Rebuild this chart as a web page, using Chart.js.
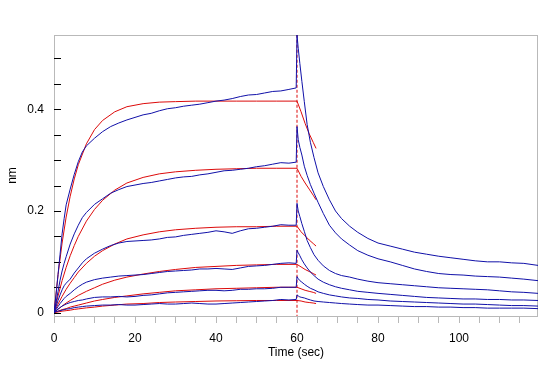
<!DOCTYPE html>
<html>
<head>
<meta charset="utf-8">
<script src="https://cdn.jsdelivr.net/npm/chart.js@4.4.1/dist/chart.umd.min.js"></script>
<style>
body{margin:0;background:#fff;}
#wrap{width:549px;height:366px;}
</style>
</head>
<body>
<div id="wrap"><canvas id="myChart" width="549" height="366"></canvas></div>
<script>
// raw sensor traces, association (0-60 s) then dissociation (60-120 s)
const assocTime = [0,0.5,1,1.5,2,2.5,3,4,5,6,7,8,10,12,14,16,18,20,22,24,26,28,30,32,34,36,38,40,42,44,46,48,50,52,54,56,58,59.8];
const dissTime  = [60,60.3,60.7,61.2,61.8,62.5,63.3,64.2,65.2,66.5,68,69.5,71,73,75,77.5,80,83,86,89,92,95,98,101,104,107,110,113,116,119.5];

const assoc1 = [0,0.035,0.075,0.115,0.155,0.185,0.212,0.243,0.272,0.297,0.316,0.328,0.343,0.356,0.366,0.373,0.379,0.384,0.389,0.392,0.397,0.401,0.403,0.406,0.408,0.410,0.413,0.416,0.418,0.421,0.425,0.428,0.429,0.432,0.435,0.436,0.439,0.442];
const assoc2 = [0,0.020,0.042,0.064,0.082,0.097,0.110,0.135,0.155,0.172,0.187,0.197,0.213,0.224,0.235,0.242,0.248,0.251,0.254,0.256,0.259,0.262,0.265,0.267,0.268,0.271,0.273,0.276,0.279,0.280,0.282,0.284,0.287,0.289,0.292,0.295,0.294,0.296];
const assoc3 = [0,0.012,0.024,0.035,0.045,0.053,0.058,0.066,0.078,0.088,0.098,0.106,0.117,0.125,0.132,0.137,0.140,0.141,0.142,0.143,0.145,0.148,0.149,0.152,0.154,0.156,0.158,0.161,0.159,0.156,0.161,0.165,0.166,0.168,0.170,0.173,0.172,0.172];
const assoc4 = [0,0.006,0.012,0.018,0.023,0.028,0.032,0.038,0.045,0.051,0.056,0.060,0.065,0.068,0.070,0.072,0.073,0.074,0.075,0.077,0.079,0.081,0.082,0.083,0.084,0.086,0.086,0.087,0.086,0.085,0.088,0.091,0.092,0.093,0.095,0.097,0.098,0.097];
const assoc5 = [0,0.004,0.007,0.010,0.013,0.015,0.017,0.020,0.022,0.024,0.025,0.027,0.030,0.031,0.031,0.032,0.031,0.032,0.034,0.035,0.037,0.039,0.040,0.041,0.042,0.043,0.044,0.044,0.043,0.044,0.046,0.046,0.047,0.047,0.048,0.050,0.050,0.050];
const assoc6 = [0,0.002,0.003,0.004,0.005,0.006,0.007,0.008,0.010,0.011,0.012,0.013,0.014,0.015,0.015,0.016,0.015,0.015,0.016,0.017,0.018,0.017,0.017,0.018,0.019,0.018,0.017,0.017,0.018,0.019,0.020,0.021,0.022,0.023,0.024,0.026,0.025,0.026];

const diss1 = [0.546,0.520,0.490,0.455,0.415,0.370,0.335,0.305,0.275,0.248,0.222,0.200,0.185,0.170,0.158,0.146,0.137,0.131,0.125,0.119,0.115,0.111,0.108,0.105,0.102,0.100,0.100,0.098,0.097,0.093];
const diss2 = [0.366,0.340,0.325,0.310,0.288,0.270,0.252,0.235,0.217,0.195,0.172,0.157,0.145,0.133,0.122,0.113,0.106,0.100,0.093,0.086,0.081,0.077,0.075,0.074,0.072,0.071,0.070,0.068,0.066,0.063];
const diss3 = [0.215,0.200,0.189,0.175,0.160,0.142,0.128,0.114,0.103,0.092,0.083,0.077,0.073,0.070,0.066,0.062,0.059,0.057,0.055,0.053,0.051,0.049,0.048,0.047,0.046,0.045,0.043,0.041,0.040,0.038];
const diss4 = [0.123,0.118,0.112,0.104,0.096,0.088,0.080,0.073,0.066,0.060,0.055,0.051,0.048,0.045,0.042,0.040,0.038,0.036,0.034,0.032,0.030,0.029,0.028,0.027,0.027,0.026,0.026,0.025,0.025,0.024];
const diss5 = [0.071,0.067,0.063,0.060,0.056,0.052,0.048,0.045,0.041,0.038,0.035,0.033,0.031,0.029,0.028,0.026,0.025,0.023,0.022,0.021,0.020,0.019,0.018,0.017,0.017,0.016,0.015,0.014,0.014,0.013];
const diss6 = [0.035,0.033,0.031,0.030,0.029,0.027,0.025,0.023,0.022,0.021,0.020,0.019,0.018,0.017,0.016,0.015,0.015,0.014,0.013,0.012,0.012,0.011,0.011,0.010,0.010,0.009,0.009,0.009,0.009,0.008];

// fitted curves (red)
const fitTime     = [0,1,2,3,4,5,6,8,10,12,15,18,22,26,30,35,40,45,50,55,60];
const fitDissTime = [61,62,63,64,64.7];

const fit1 = [0,0.075,0.137,0.188,0.229,0.263,0.291,0.332,0.360,0.378,0.395,0.405,0.411,0.414,0.415,0.416,0.416,0.416,0.416,0.416,0.416];
const fit2 = [0,0.033,0.063,0.089,0.112,0.132,0.150,0.180,0.203,0.221,0.241,0.255,0.266,0.273,0.277,0.280,0.282,0.283,0.284,0.284,0.284];
const fit3 = [0,0.017,0.032,0.046,0.058,0.069,0.080,0.097,0.111,0.122,0.135,0.145,0.153,0.159,0.163,0.166,0.168,0.169,0.169,0.170,0.170];
const fit4 = [0,0.007,0.013,0.019,0.024,0.029,0.034,0.042,0.049,0.056,0.064,0.070,0.076,0.081,0.085,0.089,0.091,0.093,0.094,0.095,0.095];
const fit5 = [0,0.003,0.006,0.008,0.011,0.013,0.015,0.019,0.023,0.026,0.030,0.033,0.037,0.040,0.043,0.045,0.047,0.048,0.049,0.050,0.050];
const fit6 = [0,0.0015,0.003,0.004,0.005,0.0065,0.0075,0.0095,0.011,0.013,0.015,0.017,0.018,0.020,0.021,0.022,0.023,0.0235,0.024,0.024,0.024];

const fitDiss1 = [0.395,0.372,0.352,0.335,0.323];
const fitDiss2 = [0.268,0.255,0.243,0.231,0.222];
const fitDiss3 = [0.159,0.151,0.143,0.136,0.131];
const fitDiss4 = [0.090,0.085,0.081,0.077,0.074];
const fitDiss5 = [0.047,0.044,0.042,0.040,0.038];
const fitDiss6 = [0.023,0.021,0.020,0.019,0.018];

const stepTime = 60; // switch from association to dissociation

// axis ticks
const xTicks  = [0,5,10,15,20,25,30,35,40,45,50,55,60,65,70,75,80,85,90,95,100,105,110,115];
const xLabels = [0,20,40,60,80,100];
const yTicks  = [0,0.05,0.1,0.15,0.2,0.25,0.3,0.35,0.4,0.45,0.5];
const yLabels = [0,0.2,0.4];

const BLUE = '#1010a8';
const RED  = '#dc0a0a';

function toPoints(times, values){
    let pts = [];
    for(let i = 0; i < times.length; i += 1){
        pts.push({x: times[i], y: values[i]});
    }
    return pts;
}

function traceSet(aVals, dVals){
    return {
        data: toPoints(assocTime, aVals).concat(toPoints(dissTime, dVals)),
        borderColor: BLUE, borderWidth: 1, pointRadius: 0, showLine: true, tension: 0
    };
}

function fitSet(aVals, dVals){
    return {
        data: toPoints(fitTime, aVals).concat(toPoints(fitDissTime, dVals)),
        borderColor: RED, borderWidth: 1, pointRadius: 0, showLine: true, tension: 0
    };
}

const datasets = [
    traceSet(assoc1, diss1), traceSet(assoc2, diss2), traceSet(assoc3, diss3),
    traceSet(assoc4, diss4), traceSet(assoc5, diss5), traceSet(assoc6, diss6),
    fitSet(fit1, fitDiss1), fitSet(fit2, fitDiss2), fitSet(fit3, fitDiss3),
    fitSet(fit4, fitDiss4), fitSet(fit5, fitDiss5), fitSet(fit6, fitDiss6),
    // dashed marker where buffer step changes
    {
        data: [{x: stepTime, y: -0.01}, {x: stepTime, y: 0.6}],
        borderColor: RED, borderWidth: 1, borderDash: [3, 2], pointRadius: 0, showLine: true
    }
];

// frame + inward y ticks (instrument software style)
const frameLines = {
    id: 'frameLines',
    beforeDatasetsDraw(chart){
        const ctx = chart.ctx;
        const a = chart.chartArea;
        const ys = chart.scales.y;
        ctx.save();
        ctx.strokeStyle = '#b9b9b9';
        ctx.lineWidth = 1;
        ctx.strokeRect(a.left + 0.5, a.top + 0.5, a.right - a.left - 1, a.bottom - a.top);
        ctx.strokeStyle = '#000';
        yTicks.forEach(function(v){
            const py = Math.round(ys.getPixelForValue(v)) + 0.5;
            ctx.beginPath();
            ctx.moveTo(a.left, py);
            ctx.lineTo(a.left + 7, py);
            ctx.stroke();
        });
        ctx.restore();
    }
};

Chart.defaults.font.family = "'Liberation Sans', Arial, sans-serif";
Chart.defaults.font.size = 12;
Chart.defaults.color = '#000';

const ctx = document.getElementById('myChart').getContext('2d');
const myChart = new Chart(ctx, {
    type: 'scatter',
    data: { datasets: datasets },
    options: {
        responsive: false,
        animation: false,
        devicePixelRatio: 1,
        layout: { padding: { top: 35, right: 11, left: 0, bottom: 0 } },
        plugins: { legend: { display: false }, tooltip: { enabled: false } },
        scales: {
            x: {
                type: 'linear', min: 0, max: 119.5,
                afterBuildTicks: function(scale){ scale.ticks = xTicks.map(v => ({value: v})); },
                afterFit: function(scale){ scale.height = 50; },
                ticks: {
                    autoSkip: false, maxRotation: 0, padding: 8,
                    callback: function(v){ return xLabels.indexOf(v) >= 0 ? String(v) : ''; }
                },
                grid: { drawOnChartArea: false, drawTicks: true, tickLength: 7, color: '#b9b9b9' },
                border: { display: false },
                title: { display: true, text: 'Time (sec)', padding: { top: 0, bottom: 6 } }
            },
            y: {
                type: 'linear', min: -0.0065, max: 0.546,
                afterBuildTicks: function(scale){ scale.ticks = yTicks.map(v => ({value: v})); },
                afterFit: function(scale){ scale.width = 54; },
                ticks: {
                    autoSkip: false, padding: 10,
                    callback: function(v){ return yLabels.indexOf(v) >= 0 ? String(v) : ''; }
                },
                grid: { display: false, drawTicks: false },
                border: { display: false },
                title: { display: true, text: 'nm', padding: { top: 5, bottom: 0 } }
            }
        }
    },
    plugins: [frameLines]
});
</script>
</body>
</html>
